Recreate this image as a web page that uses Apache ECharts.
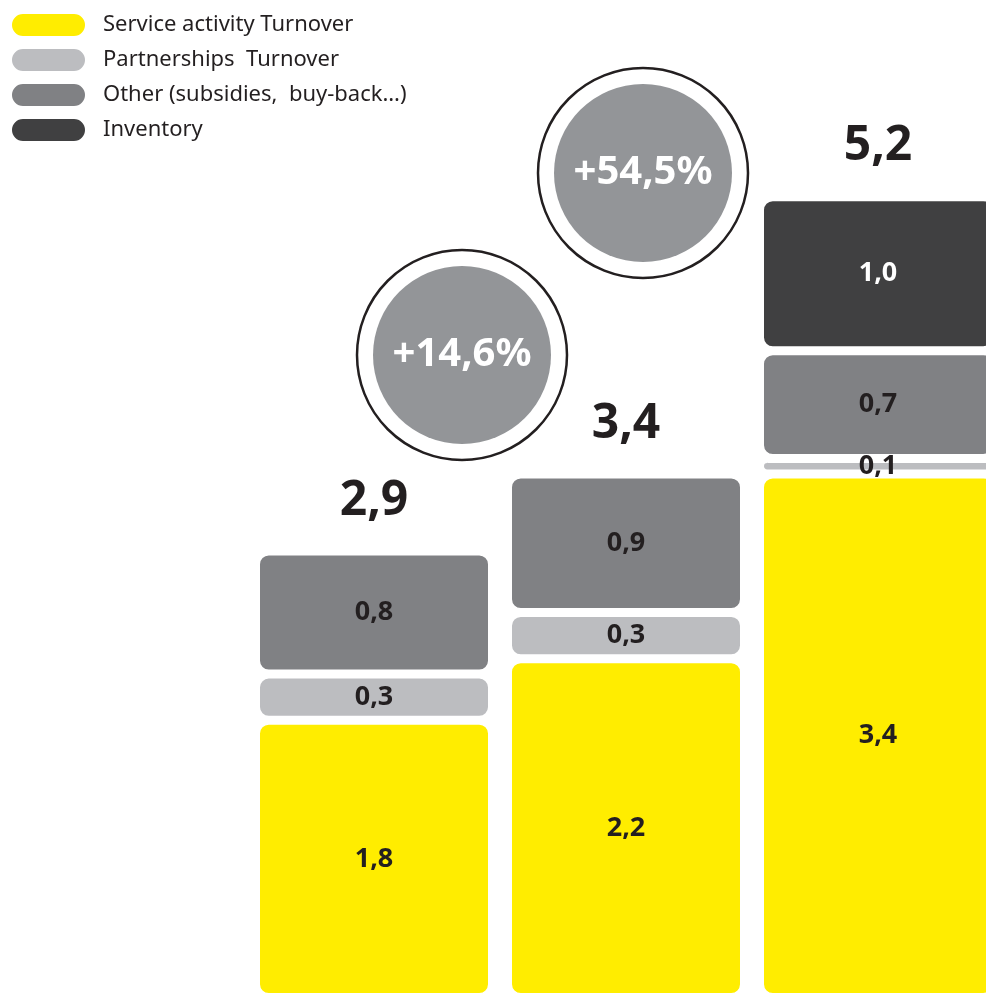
<!DOCTYPE html>
<html>
<head>
<meta charset="utf-8">
<script src="https://cdn.jsdelivr.net/npm/echarts@6/dist/echarts.min.js"></script>
<style>
  html, body { margin: 0; padding: 0; background: #fff; }
  #chart { width: 986px; height: 994px; }
</style>
</head>
<body>
<div id="chart"></div>
<script>
// data
const categories = ['A', 'B', 'C']
const serviceTurnover = [1.8, 2.2, 3.4]
const partnershipsTurnover = [0.3, 0.3, 0.1]
const other = [0.8, 0.9, 0.7]
const inventory = [null, null, 1.0]
const growthLabels = ['+14,6%', '+54,5%']

const totals = categories.map((c, i) =>
  Math.round(((serviceTurnover[i] || 0) + (partnershipsTurnover[i] || 0) + (other[i] || 0) + (inventory[i] || 0)) * 10) / 10
)

const font = '"Noto Sans", "Open Sans", sans-serif'
const comma = v => v.toFixed(1).replace('.', ',')

function stackSeries (name, data, color, labelColor) {
  return {
    name: name,
    type: 'bar',
    stack: 'total',
    data: data,
    barWidth: 237,
    itemStyle: {
      color: color,
      borderColor: '#fff',
      borderWidth: 4.5,
      borderRadius: 11
    },
    label: {
      show: true,
      position: 'inside',
      fontFamily: font,
      fontSize: 27,
      fontWeight: 'bold',
      color: labelColor,
      formatter: p => comma(p.value)
    }
  }
}

// growth bubbles
function bubble (cx, cy, text) {
  return {
    type: 'group',
    children: [
      { type: 'circle', shape: { cx: cx, cy: cy, r: 105 }, style: { fill: '#fff', stroke: '#231f20', lineWidth: 2.5 } },
      { type: 'circle', shape: { cx: cx, cy: cy, r: 89 }, style: { fill: '#939598' } },
      {
        type: 'text',
        x: cx,
        y: cy,
        style: {
          text: text,
          fill: '#fff',
          font: 'bold 40px ' + font,
          align: 'center',
          verticalAlign: 'middle'
        }
      }
    ]
  }
}

const myChart = echarts.init(document.getElementById('chart'))
myChart.setOption({
  animation: false,
  legend: {
    orient: 'vertical',
    left: 10,
    top: 12,
    padding: 0,
    itemWidth: 75,
    itemHeight: 24,
    itemGap: 9,
    icon: 'path://M12,0 H63 A12,12 0 0 1 63,24 H12 A12,12 0 0 1 12,0 Z',
    data: ['Service activity Turnover', 'Partnerships  Turnover', 'Other (subsidies,  buy-back…)', 'Inventory'],
    textStyle: {
      fontFamily: font,
      fontSize: 22,
      color: '#231f20',
      padding: [0, 0, 0, 12]
    }
  },
  grid: {
    left: 248,
    width: 756,
    top: 73.5,
    bottom: -3.5,
    outerBoundsMode: 'none'
  },
  xAxis: {
    type: 'category',
    data: categories,
    show: false
  },
  yAxis: {
    type: 'value',
    min: 0,
    max: 6,
    show: false
  },
  series: [
    stackSeries('Service activity Turnover', serviceTurnover, '#ffed00', '#231f20'),
    stackSeries('Partnerships  Turnover', partnershipsTurnover, '#bcbdc0', '#231f20'),
    stackSeries('Other (subsidies,  buy-back…)', other, '#808184', '#231f20'),
    stackSeries('Inventory', inventory, '#404041', '#fff'),
    {
      name: 'total',
      type: 'scatter',
      data: totals,
      symbolSize: 0,
      itemStyle: { opacity: 1 },
      label: {
        show: true,
        position: 'top',
        distance: 26,
        fontFamily: font,
        fontSize: 48,
        fontWeight: 'bold',
        color: '#231f20',
        formatter: p => comma(p.value)
      }
    }
  ],
  graphic: [
    bubble(462, 355, growthLabels[0]),
    bubble(643, 173, growthLabels[1])
  ]
})
</script>
</body>
</html>
